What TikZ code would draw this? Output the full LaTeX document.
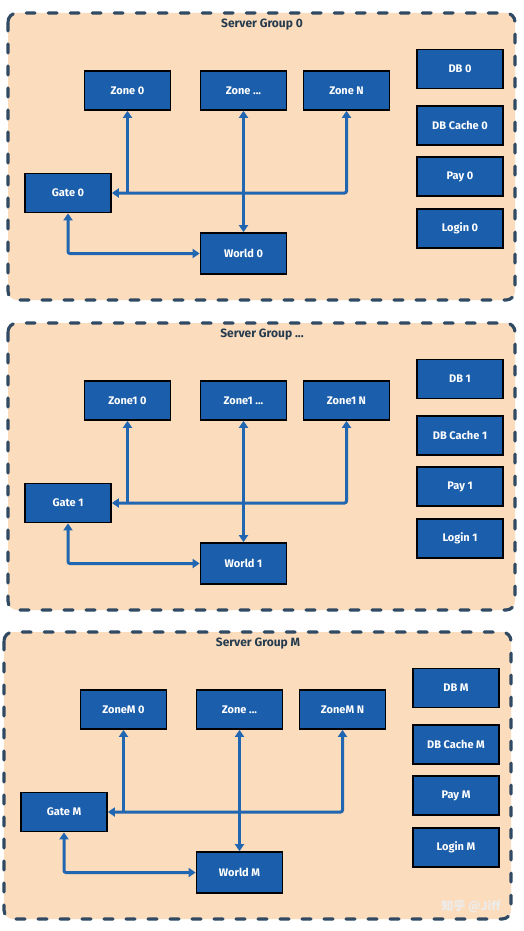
\documentclass[tikz,border=0pt]{standalone}
\usepackage{fontspec}
\setmainfont{Fira Sans}[BoldFont={Fira Sans Bold}]
\newfontfamily\cjkfont{Noto Sans CJK SC}
\usetikzlibrary{arrows.meta,calc}
\definecolor{peach}{HTML}{FBDCBC}
\definecolor{boxblue}{HTML}{1B5EAB}
\definecolor{linkblue}{HTML}{2166B0}
\definecolor{dashblue}{HTML}{2F4A62}
\tikzset{
  group/.style   = {draw=dashblue, fill=peach, line width=3.2pt, line cap=round,
                    dash pattern=on 9pt off 13pt, rounded corners=9pt},
  gtitle/.style  = {font=\bfseries\fontsize{12}{14}\selectfont, text=dashblue!80!black},
  server/.style  = {shape=rectangle, draw=black, fill=boxblue, line width=1.7pt,
                    minimum width=86pt, minimum height=39pt, inner sep=0pt,
                    text=white, font=\bfseries\fontsize{11}{13}\selectfont},
  link/.style    = {draw=linkblue, line width=3pt, rounded corners=2pt},
  wmark/.style   = {font=\cjkfont\bfseries\fontsize{12}{14}\selectfont, text=white!85!gray}
}

\begin{document}
\begin{tikzpicture}[x=1pt,y=-1pt,>={Triangle[width=9pt,length=7pt]}]
\useasboundingbox[fill=white] (0,0) rectangle (524,931);
\foreach \g/\dx/\dy/\gname/\zname/\zmid/\id in
  {0/0/0/0/Zone/Zone/0, 1/0/310/{...}/Zone1/Zone1/1, M/-4/619/M/ZoneM/Zone/M}{
  \begin{scope}[shift={(\dx,\dy)}]
    \draw[group] (8,13) rectangle (515,300);
    \node [gtitle] (title\g) at (262,25) {Server Group \gname};
    % zones
    \node [server] (zonea\g) at (127.5,90.5) {\zname{} 0};
    \node [server] (zoneb\g) at (243.5,90.5) {\zmid{} ...};
    \node [server] (zonec\g) at (346.5,90.5) {\zname{} N};
    \node [server] (gate\g)  at (68,193)     {Gate \id};
    \node [server, minimum height=41pt] (world\g) at (243.5,253.5) {World \id};
    % services
    \node [server] (db\g)    at (460,69)    {DB \id};
    \node [server] (cache\g) at (460,125.5) {DB Cache \id};
    \node [server] (pay\g)   at (460,176.5) {Pay \id};
    \node [server] (login\g) at (460,228.5) {Login \id};
    % links
    \draw [link,<->] (gate\g.east) -| (zonec\g.south);
    \draw [link,->] (zonea\g.south |- gate\g.east) -- (zonea\g.south);
    \draw [link,<->] (zoneb\g.south) -- (world\g.north);
    \draw [link,<->] (gate\g.south) |- (world\g.west);
  \end{scope}
}
\node [wmark] (watermark) at (471,907) {知乎 @Jiff};
\end{tikzpicture}
\end{document}
